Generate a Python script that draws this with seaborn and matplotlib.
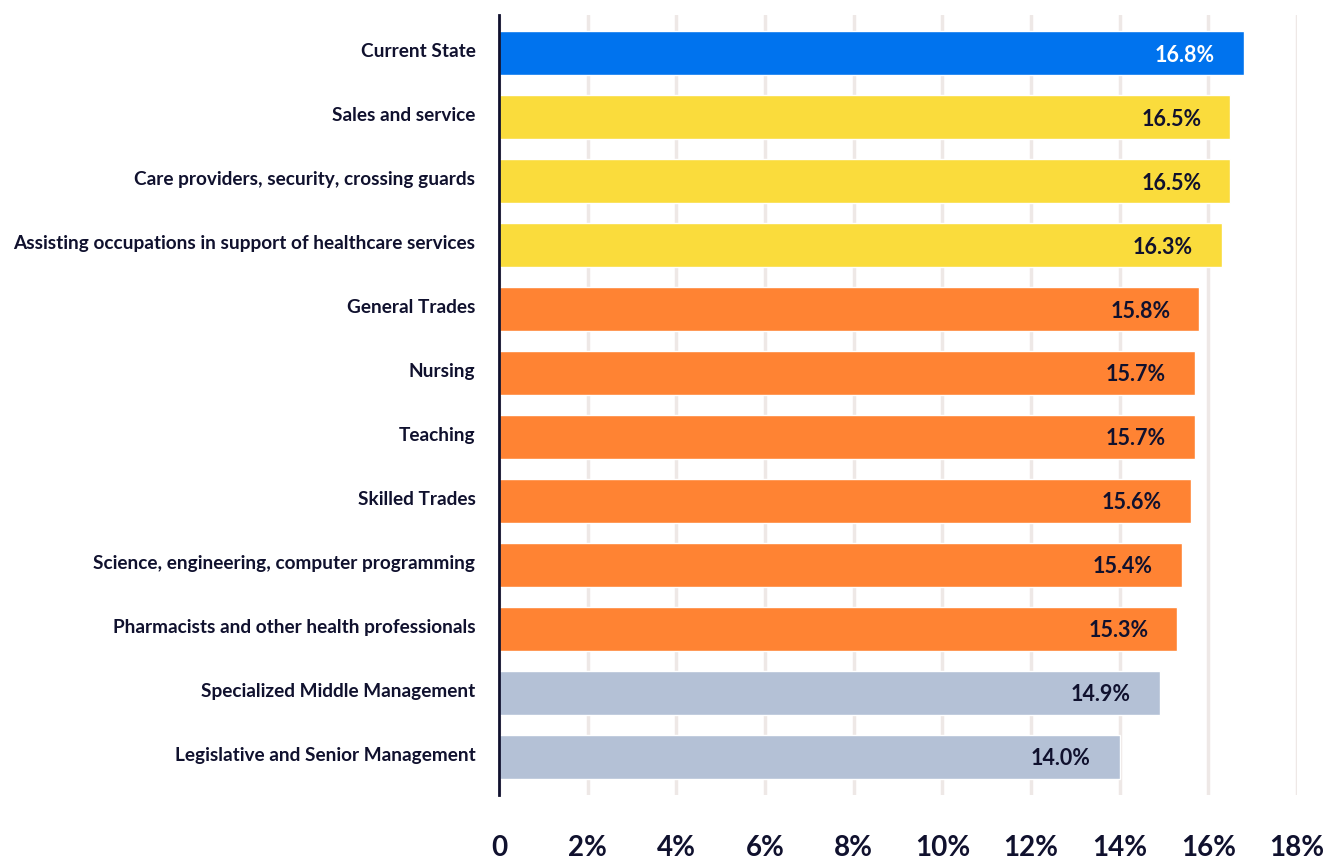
import matplotlib
matplotlib.use("Agg")
import matplotlib.pyplot as plt
import matplotlib.transforms as mtransforms
import seaborn as sns
import pandas as pd

categories = [
    "Current State",
    "Sales and service",
    "Care providers, security, crossing guards",
    "Assisting occupations in support of healthcare services",
    "General Trades",
    "Nursing",
    "Teaching",
    "Skilled Trades",
    "Science, engineering, computer programming",
    "Pharmacists and other health professionals",
    "Specialized Middle Management",
    "Legislative and Senior Management",
]
values = [16.8, 16.5, 16.5, 16.3, 15.8, 15.7, 15.7, 15.6, 15.4, 15.3, 14.9, 14.0]
groups = ["current", "high", "high", "high", "mid", "mid", "mid", "mid", "mid", "mid", "low", "low"]
tick_values = [0, 2, 4, 6, 8, 10, 12, 14, 16, 18]
tick_labels = ["0", "2%", "4%", "6%", "8%", "10%", "12%", "14%", "16%", "18%"]

palette = {"current": "#0073EE", "high": "#FADC3C", "mid": "#FF8333", "low": "#B4C1D6"}
ink = "#10112E"

sns.set_theme(style="white")
plt.rcParams["font.family"] = ["Lato", "DejaVu Sans"]

df = pd.DataFrame({"category": categories, "value": values, "group": groups})

fig = plt.figure(figsize=(13.33, 8.59), dpi=100)
ax = fig.add_axes([499 / 1333, 1 - 795 / 859, (1297 - 499) / 1333, (795 - 15) / 859])

sns.barplot(data=df, y="category", x="value", hue="group", palette=palette,
            order=categories, dodge=False, width=0.69, legend=False, ax=ax,
            saturation=1, zorder=3)

ax.set_xlim(0, 18)
ax.set_ylim(len(categories) - 0.4, -0.6)
ax.set_xticks(tick_values)
ax.set_xticklabels(tick_labels, fontsize=20, fontweight="bold", color=ink)
ax.tick_params(axis="x", length=0, pad=29)
ax.tick_params(axis="y", length=0, pad=17)
lift = mtransforms.ScaledTranslation(0, 3 / 100, fig.dpi_scale_trans)
for lbl in ax.get_yticklabels():
    lbl.set_fontsize(13.7)
    lbl.set_fontweight("bold")
    lbl.set_color(ink)
    lbl.set_transform(lbl.get_transform() + lift)
ax.set_xlabel("")
ax.set_ylabel("")

ax.grid(axis="x", color="#EEE8E6", linewidth=2.5, zorder=0)
ax.grid(axis="y", visible=False)
for side in ["top", "right", "bottom"]:
    ax.spines[side].set_visible(False)
ax.spines["left"].set_color(ink)
ax.spines["left"].set_linewidth(2)
ax.spines["left"].set_zorder(5)

for i, (v, g) in enumerate(zip(values, groups)):
    color = "white" if g == "current" else ink
    ax.text(v - 0.65, i + 0.03, f"{v:.1f}%", ha="right", va="center",
            fontsize=15.5, fontweight="bold", color=color, zorder=6)

fig.savefig("out.png", dpi=100)
